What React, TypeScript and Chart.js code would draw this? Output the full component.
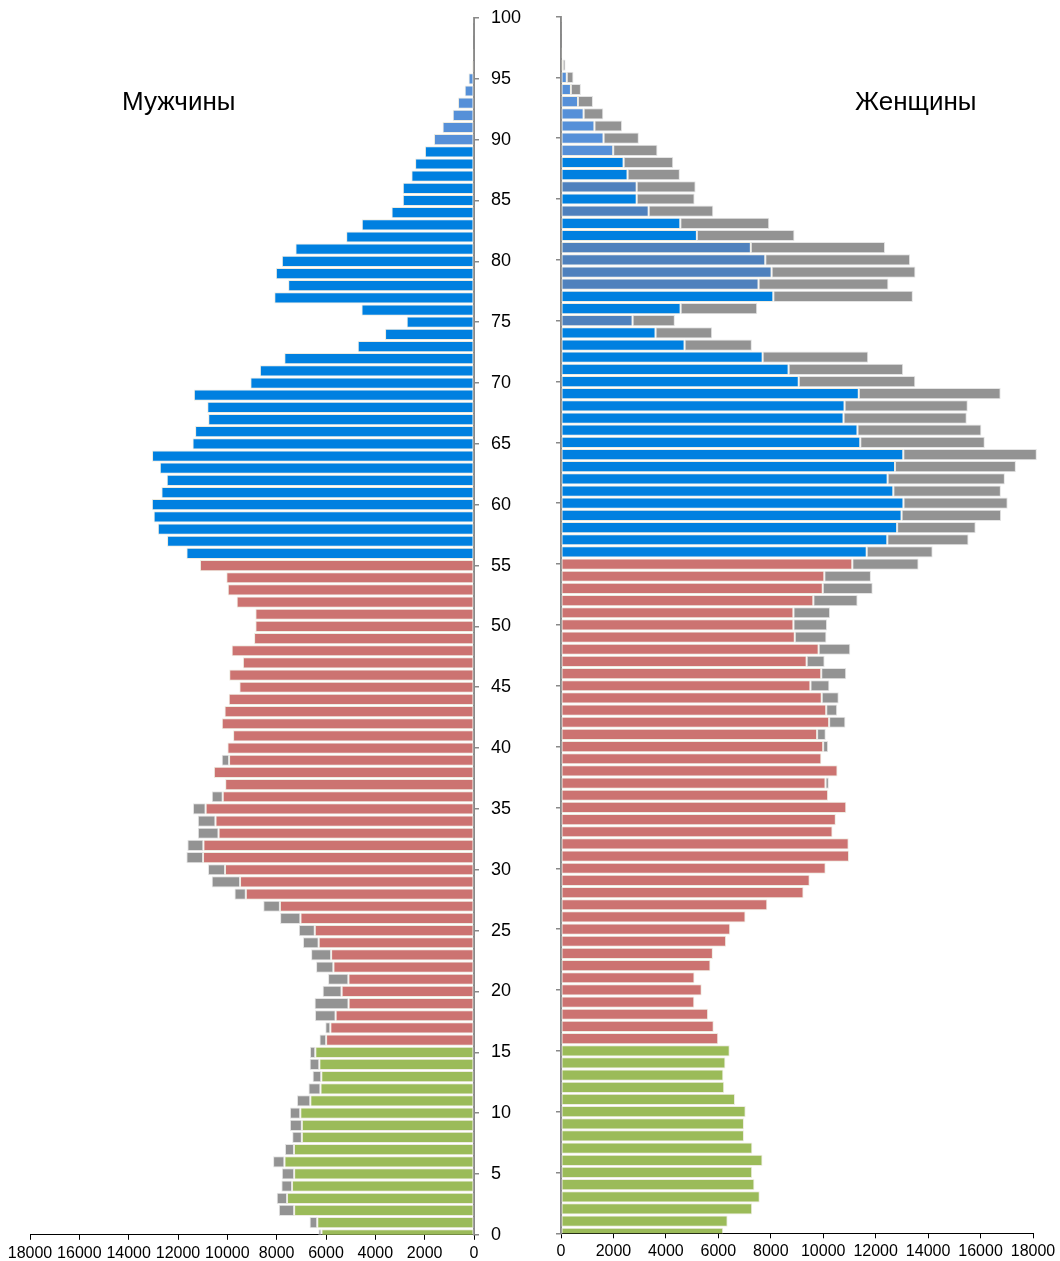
import React, { useEffect, useRef } from 'react';
import { Chart, registerables } from 'chart.js';

Chart.register(...registerables);

// Ages 0..100 (one bar per year of age)
const ages: number[] = Array.from({ length: 101 }, (_, i) => i);

// Matched part (shown in colour on both sides), ages 0..100
const matched: number[] = [
  6186, 6355, 7292, 7580, 7377, 7292, 7685, 7298, 6978, 6978,
  7043, 6637, 6225, 6192, 6271, 6435, 5996, 5825, 5610, 5085,
  5367, 5092, 5701, 5793, 6297, 6454, 7037, 7868, 9250, 9485,
  10094, 10985, 10971, 10356, 10481, 10880, 10186, 10088, 10546, 9930,
  9997, 9767, 10225, 10114, 9944, 9512, 9924, 9369, 9826, 8916,
  8864, 8864, 9623, 9983, 10042, 11109, 11659, 12444, 12818, 12988,
  13060, 12673, 12457, 12738, 13053, 11412, 11307, 10775, 10814, 11357,
  9067, 8680, 7691, 4713, 3606, 2730, 4562, 8097, 7534, 8032,
  7790, 7240, 5183, 4550, 3344, 2887, 2887, 2539, 2388, 1990,
  1623, 1275, 863, 648, 379, 222, 70, 35, 25, 10,
  5,
];

// Excess of men (grey, left side), ages 0..100
const menExcess: number[] = [
  122, 311, 621, 419, 433, 500, 460, 365, 392, 486,
  419, 541, 486, 352, 392, 216, 270, 203, 838, 1379,
  770, 824, 702, 811, 635, 648, 824, 676, 460, 1149,
  689, 676, 649, 839, 716, 514, 446, 0, 0, 298,
  0, 0, 0, 0, 0, 0, 0, 0, 0, 0,
  0, 0, 0, 0, 0, 0, 0, 0, 0, 0,
  0, 0, 0, 0, 0, 0, 0, 0, 0, 0,
  0, 0, 0, 0, 0, 0, 0, 0, 0, 0,
  0, 0, 0, 0, 0, 0, 0, 0, 0, 0,
  0, 0, 0, 0, 0, 0, 0, 0, 0, 0,
  0,
];

// Excess of women (grey, right side), ages 0..100
const womenExcess: number[] = [
  0, 0, 0, 0, 0, 0, 0, 0, 0, 0,
  0, 0, 0, 0, 0, 0, 0, 0, 0, 0,
  0, 0, 0, 0, 0, 0, 0, 0, 0, 0,
  0, 0, 0, 0, 0, 0, 0, 127, 0, 0,
  190, 330, 622, 419, 648, 724, 953, 685, 1206, 1207,
  1283, 1397, 1689, 1905, 1778, 2528, 2515, 3098, 2997, 3797,
  3975, 4102, 4471, 4610, 5093, 4750, 4725, 4699, 4699, 5410,
  4445, 4369, 4026, 2566, 2159, 1612, 2921, 5322, 4953, 5486,
  5524, 5118, 3721, 3391, 2464, 2209, 2248, 1994, 1893, 1689,
  1346, 1054, 750, 571, 381, 254, 102, 0, 0, 0,
  0,
];

const ageTickValues: number[] = [0, 5, 10, 15, 20, 25, 30, 35, 40, 45, 50, 55, 60, 65, 70, 75, 80, 85, 90, 95, 100];
const valueTickValues: number[] = [0, 2000, 4000, 6000, 8000, 10000, 12000, 14000, 16000, 18000];

// Age groups for colouring
const childMaxAge = 15;
const workingMaxAge = 55;
const menLightAges: number[] = [90, 91, 92, 93, 94, 95, 96, 97, 98, 99, 100];
const womenLightAges: number[] = [89, 90, 91, 92, 93, 94, 95, 96, 97, 98, 99, 100];
const womenSteelAges: number[] = [75, 78, 79, 80, 81, 84, 86];

const GREEN = '#9BBB59';
const RED = '#CC7371';
const BLUE = '#0080E0';
const LIGHT_BLUE = '#5690D8';
const STEEL = '#4F81BD';
const GREY = '#939393';
const FONT = '"Liberation Sans", Arial, sans-serif';

function colourFor(age: number, light: number[], steel: number[]): string {
  if (age <= childMaxAge) return GREEN;
  if (age <= workingMaxAge) return RED;
  if (light.includes(age)) return LIGHT_BLUE;
  if (steel.includes(age)) return STEEL;
  return BLUE;
}

function makeConfig(side: 'left' | 'right'): any {
  const isLeft = side === 'left';
  const colours = ages.map((a) =>
    isLeft ? colourFor(a, menLightAges, []) : colourFor(a, womenLightAges, womenSteelAges)
  );
  const excess = isLeft ? menExcess : womenExcess;
  const clip = isLeft
    ? { left: 20, top: 6, right: 0, bottom: 0 }
    : { left: 0, top: 6, right: 20, bottom: 0 };
  return {
    type: 'bar',
    data: {
      labels: ages,
      datasets: [
        {
          data: matched,
          backgroundColor: colours,
          borderColor: '#EEECE1',
          borderWidth: 1,
          borderSkipped: false,
          barPercentage: 0.92,
          categoryPercentage: 1,
          clip,
        },
        {
          data: excess,
          backgroundColor: GREY,
          borderColor: '#E4E4E4',
          borderWidth: 1,
          borderSkipped: false,
          barPercentage: 0.92,
          categoryPercentage: 1,
          clip,
        },
      ],
    },
    options: {
      indexAxis: 'y',
      animation: false,
      responsive: false,
      maintainAspectRatio: false,
      events: [],
      layout: isLeft
        ? { padding: { left: 30, top: 18, right: 0, bottom: 0 } }
        : { padding: { left: 0, top: 16.5, right: 27, bottom: 1.5 } },
      plugins: { legend: { display: false }, tooltip: { enabled: false }, title: { display: false } },
      scales: {
        x: {
          type: 'linear',
          reverse: isLeft,
          min: 0,
          max: 18000,
          stacked: true,
          position: 'bottom',
          offset: false,
          afterBuildTicks: (s: any) => {
            s.ticks = valueTickValues.map((v) => ({ value: v }));
          },
          ticks: {
            autoSkip: false,
            maxRotation: 0,
            minRotation: 0,
            padding: 4,
            color: '#000',
            font: { family: FONT, size: 16 },
            callback: (v: any) => String(v),
          },
          grid: { offset: false, drawOnChartArea: false, drawTicks: true, tickLength: 5, color: '#000', lineWidth: 1 },
          border: { display: true, color: '#000', width: 1 },
        },
        y: {
          type: 'linear',
          min: 0,
          max: 100,
          stacked: true,
          offset: false,
          position: isLeft ? 'right' : 'left',
          afterBuildTicks: (s: any) => {
            s.ticks = ageTickValues.map((v) => ({ value: v }));
          },
          afterFit: (s: any) => {
            s.width = isLeft ? 60 : 21;
            s.paddingTop = 0;
            s.paddingBottom = 0;
          },
          ticks: {
            display: isLeft,
            autoSkip: false,
            padding: 12,
            color: '#000',
            font: { family: FONT, size: 18 },
            callback: (v: any) => String(v),
          },
          grid: { offset: false, drawOnChartArea: false, drawTicks: true, tickLength: 5, color: '#898989', lineWidth: 1.5 },
          border: { display: true, color: '#898989', width: 2 },
        },
      },
    },
  };
}

export default function App() {
  const leftRef = useRef<HTMLCanvasElement | null>(null);
  const rightRef = useRef<HTMLCanvasElement | null>(null);

  useEffect(() => {
    const charts: Chart[] = [];
    if (leftRef.current) charts.push(new Chart(leftRef.current, makeConfig('left')));
    if (rightRef.current) charts.push(new Chart(rightRef.current, makeConfig('right')));
    return () => {
      charts.forEach((c) => c.destroy());
    };
  }, []);

  const titleStyle: React.CSSProperties = {
    position: 'absolute',
    top: 88,
    fontFamily: FONT,
    fontSize: 26,
    lineHeight: '26px',
    color: '#000',
    whiteSpace: 'nowrap',
  };

  return (
    <div
      style={{
        position: 'fixed',
        left: 0,
        top: 0,
        width: 1060,
        height: 1261,
        background: '#fff',
        overflow: 'hidden',
      }}
    >
      <canvas
        ref={leftRef}
        width={534}
        height={1267}
        style={{ position: 'absolute', left: 0, top: 0, width: 534, height: 1267, display: 'block' }}
      />
      <canvas
        ref={rightRef}
        width={520}
        height={1267}
        style={{ position: 'absolute', left: 540, top: 0, width: 520, height: 1267, display: 'block' }}
      />
      <div style={{ ...titleStyle, left: 122 }}>Мужчины</div>
      <div style={{ ...titleStyle, left: 855 }}>Женщины</div>
    </div>
  );
}
